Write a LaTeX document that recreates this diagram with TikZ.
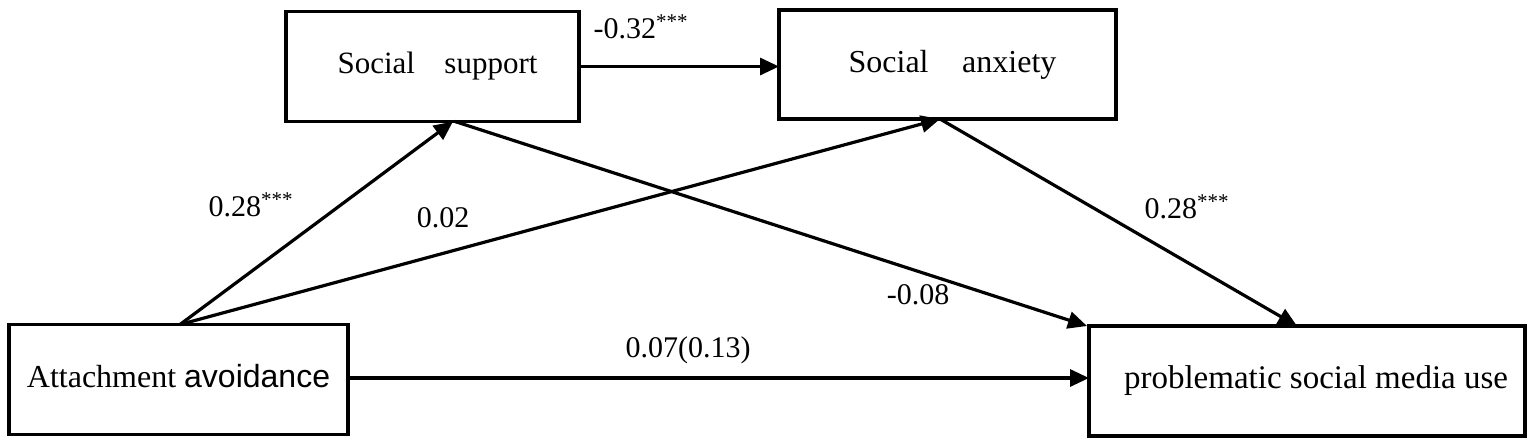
\documentclass[tikz,border=0pt]{standalone}
\usepackage{fontspec}
\setmainfont{Liberation Serif}
\newfontfamily\altsans{Liberation Sans}
\usetikzlibrary{arrows.meta,calc}
\begin{document}
\begin{tikzpicture}[x=0.5pt,y=-0.5pt,
  box/.style={draw,line width=1.6pt,minimum height=55pt,inner sep=0pt,outer sep=0pt},
  conn/.style={line width=1.6pt,-{Triangle[length=9.5pt,width=8.5pt]}},
  coef/.style={inner sep=0pt,font=\fontsize{15pt}{18pt}\selectfont}]
\useasboundingbox[fill=white] (0,0) rectangle (1535,446);
\node[box,minimum width=169.5pt,font=\fontsize{16pt}{19pt}\selectfont] (att) at (178.5,379.5) {Attachment {\altsans avoidance}\vphantom{p}};
\node[box,minimum width=146.5pt,font=\fontsize{15.5pt}{18pt}\selectfont] (ss) at (432.5,66.5) {\hspace*{5pt}Social\hspace{0.95em}support};
\node[box,minimum width=168.5pt,minimum height=54.5pt,font=\fontsize{16pt}{19pt}\selectfont] (sa) at (947.5,64.5) {\hspace*{5pt}Social\hspace{1.05em}anxiety};
\node[box,minimum width=218pt,font=\fontsize{16.5pt}{19pt}\selectfont] (pm) at (1307,381) {\hspace*{9pt}problematic social media use};
\coordinate (attT) at ($(att.north)+(1.5,0)$);
\coordinate (ssB1) at ($(ss.south)+(20.5,0)$);
\coordinate (ssB2) at ($(ss.south)+(22.5,0)$);
\coordinate (saB) at ($(sa.south)+(-7.5,0)$);
\coordinate (pmT1) at ($(pm.north west)+(-2,0)$);
\coordinate (pmT2) at ($(pm.north)+(-10,0)$);
\draw[conn] (ss.east) -- (ss.east -| sa.west);
\draw[conn] (attT) -- (ssB1);
\draw[conn] (attT) -- (saB);
\draw[conn] (ssB2) -- (pmT1);
\draw[conn] (saB) -- (pmT2);
\draw[conn] (att.east |- 0,378) -- (pm.west |- 0,378);
\node[coef] (c1) at (641,27) {-0.32\textsuperscript{***}};
\node[coef] (c2) at (251,205) {0.28\textsuperscript{***}};
\node[coef] (c3) at (443,218) {0.02};
\node[coef] (c4) at (918,295) {-0.08};
\node[coef] (c5) at (1187,207) {0.28\textsuperscript{***}};
\node[coef] (c6) at (688,350) {0.07(0.13)};
\end{tikzpicture}
\end{document}
